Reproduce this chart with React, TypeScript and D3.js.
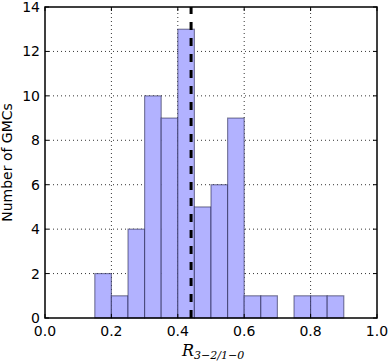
import React, { useEffect, useRef } from 'react';
import * as d3 from 'd3';

const binStarts = [0.15, 0.2, 0.25, 0.3, 0.35, 0.4, 0.45, 0.5, 0.55, 0.6, 0.65, 0.7, 0.75, 0.8, 0.85];
const counts = [2, 1, 4, 10, 9, 13, 5, 6, 9, 1, 1, 0, 1, 1, 1];
const binWidth = 0.05;
const medianValue = 0.44;
const xTicks = [0, 0.2, 0.4, 0.6, 0.8, 1.0];
const yTicks = [0, 2, 4, 6, 8, 10, 12, 14];

const App = () => {
  const ref = useRef<SVGSVGElement>(null);

  useEffect(() => {
    const margin = { top: 7, right: 13, bottom: 46, left: 45 };
    const width = 390;
    const height = 364;
    const svg = d3.select(ref.current);
    svg.selectAll('*').remove();

    const x = d3.scaleLinear().domain([0, 1]).range([margin.left, width - margin.right]);
    const y = d3.scaleLinear().domain([0, 14]).range([height - margin.bottom, margin.top]);
    const font = 'DejaVu Sans, sans-serif';

    // grid
    const grid = svg.append('g').attr('stroke', '#000').attr('stroke-width', 0.8)
      .attr('stroke-dasharray', '1,3');
    grid.selectAll('line.gx').data(xTicks.slice(1, -1)).join('line')
      .attr('x1', (d) => x(d)).attr('x2', (d) => x(d))
      .attr('y1', y(0)).attr('y2', y(14));
    grid.selectAll('line.gy').data(yTicks.slice(1, -1)).join('line')
      .attr('y1', (d) => y(d)).attr('y2', (d) => y(d))
      .attr('x1', x(0)).attr('x2', x(1));

    // bars
    svg.append('g')
      .selectAll('rect')
      .data(binStarts.map((s, i) => ({ s, c: counts[i] })).filter((d) => d.c > 0))
      .join('rect')
      .attr('x', (d) => x(d.s))
      .attr('width', (d) => x(d.s + binWidth) - x(d.s))
      .attr('y', (d) => y(d.c))
      .attr('height', (d) => y(0) - y(d.c))
      .attr('fill', 'rgb(178,178,255)')
      .attr('stroke', 'rgba(0,0,40,0.45)')
      .attr('stroke-width', 1.2);

    // median line
    svg.append('line')
      .attr('x1', x(medianValue)).attr('x2', x(medianValue))
      .attr('y1', y(0)).attr('y2', y(14))
      .attr('stroke', '#000').attr('stroke-width', 3)
      .attr('stroke-dasharray', '8,8');

    // frame
    svg.append('rect')
      .attr('x', x(0)).attr('y', y(14))
      .attr('width', x(1) - x(0)).attr('height', y(0) - y(14))
      .attr('fill', 'none').attr('stroke', '#000').attr('stroke-width', 1.5);

    // ticks (inside, both sides)
    const ticks = svg.append('g').attr('stroke', '#000').attr('stroke-width', 1);
    xTicks.forEach((t) => {
      ticks.append('line').attr('x1', x(t)).attr('x2', x(t)).attr('y1', y(0)).attr('y2', y(0) - 4);
      ticks.append('line').attr('x1', x(t)).attr('x2', x(t)).attr('y1', y(14)).attr('y2', y(14) + 4);
    });
    yTicks.forEach((t) => {
      ticks.append('line').attr('y1', y(t)).attr('y2', y(t)).attr('x1', x(0)).attr('x2', x(0) + 4);
      ticks.append('line').attr('y1', y(t)).attr('y2', y(t)).attr('x1', x(1)).attr('x2', x(1) - 4);
    });

    // tick labels
    svg.append('g').selectAll('text').data(xTicks).join('text')
      .attr('x', (d) => x(d)).attr('y', y(0) + 18)
      .attr('text-anchor', 'middle')
      .style('font-family', font).style('font-size', '14px')
      .text((d) => d.toFixed(1));
    svg.append('g').selectAll('text').data(yTicks).join('text')
      .attr('x', x(0) - 5).attr('y', (d) => y(d) + 5)
      .attr('text-anchor', 'end')
      .style('font-family', font).style('font-size', '14px')
      .text((d) => String(d));

    // axis labels
    svg.append('text')
      .attr('transform', `translate(12,${(y(0) + y(14)) / 2}) rotate(-90)`)
      .attr('text-anchor', 'middle')
      .style('font-family', font).style('font-size', '14px')
      .text('Number of GMCs');

    const xl = svg.append('text')
      .attr('x', 182).attr('y', 356)
      .style('font-family', 'DejaVu Serif, serif');
    xl.append('tspan').style('font-style', 'italic').style('font-size', '16px').text('R');
    xl.append('tspan').attr('dy', 3).style('font-style', 'italic').style('font-size', '11px')
      .text('3\u22122/1\u22120');
  }, []);

  return (
    <svg
      ref={ref}
      width={390}
      height={364}
      style={{ display: 'block', position: 'absolute', left: 0, top: 0 }}
    />
  );
};

export default App;
